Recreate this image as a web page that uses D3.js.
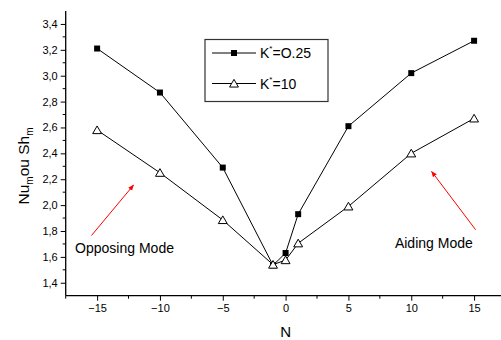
<!DOCTYPE html>
<html>
<head>
<meta charset="utf-8">
<script src="https://cdn.jsdelivr.net/npm/d3@7"></script>
<style>
  body { margin: 0; background: #fff; }
  text { font-family: "Liberation Sans", Arial, sans-serif; }
</style>
</head>
<body>
<svg id="chart"></svg>
<script>
// values
let nValues = [-15, -10, -5, -1, 0, 1, 5, 10, 15]
let k025 = [3.21, 2.87, 2.29, 1.535, 1.63, 1.93, 2.61, 3.02, 3.27]
let k10 = [2.58, 2.25, 1.885, 1.54, 1.575, 1.705, 1.99, 2.40, 2.67]
let xTicks = [-15, -10, -5, 0, 5, 10, 15]
let xMinor = [-17.5, -12.5, -7.5, -2.5, 2.5, 7.5, 12.5, 17.5]
let yTicks = [1.4, 1.6, 1.8, 2.0, 2.2, 2.4, 2.6, 2.8, 3.0, 3.2, 3.4]
let yMinor = [1.5, 1.7, 1.9, 2.1, 2.3, 2.5, 2.7, 2.9, 3.1, 3.3]
let seriesNames = ["O.25", "10"]
let notes = [
    {text: "Opposing Mode", x: -16.75, y: 1.63, from: [-15.45, 1.765], to: [-12.1, 2.155]},
    {text: "Aiding Mode", x: 8.7, y: 1.668, from: [15.12, 1.81], to: [11.62, 2.26]}
]

let svg = d3.select("#chart").attr("width", 501).attr("height", 340)

function translate(x, y){
    return "translate(" + x + ", " + y + ")"
}

let x = d3.scaleLinear().domain([-17.5, 17.5]).range([65.7, 505.5]),
    y = d3.scaleLinear().domain([1.3, 3.5]).range([295.7, 11])
let fmt = d => d.toFixed(1).replace(".", ",")

// axes
let xAxis = svg.append("g").attr("transform", translate(0, y(1.3)))
    .call(d3.axisBottom(x).tickValues(xTicks).tickSize(5).tickPadding(4).tickFormat(d3.format("d")))
xAxis.select(".domain").attr("d", "M" + x(-17.5) + ",0H" + x(17.5)).attr("stroke-width", 1.3)
xAxis.selectAll(".tick text").attr("font-size", 11).attr("font-family", "Liberation Sans, Arial, sans-serif")
xAxis.selectAll(".minor").data(xMinor).enter().append("line")
    .attr("class", "minor").attr("x1", d => x(d)).attr("x2", d => x(d))
    .attr("y1", 0).attr("y2", 3).attr("stroke", "#000")

let yAxis = svg.append("g").attr("transform", translate(x(-17.5), 0))
    .call(d3.axisLeft(y).tickValues(yTicks).tickSize(5).tickPadding(3).tickFormat(fmt))
yAxis.select(".domain").attr("d", "M0," + y(1.3) + "V" + y(3.5)).attr("stroke-width", 1.3)
yAxis.selectAll(".tick text").attr("font-size", 11).attr("font-family", "Liberation Sans, Arial, sans-serif")
yAxis.selectAll(".minor").data(yMinor).enter().append("line")
    .attr("class", "minor").attr("x1", -3).attr("x2", 0)
    .attr("y1", d => y(d)).attr("y2", d => y(d)).attr("stroke", "#000")

// axis titles
svg.append("text").attr("x", x(0)).attr("y", 337).attr("text-anchor", "middle")
    .attr("font-size", 15).text("N")
let yt = svg.append("text").attr("transform", translate(29, 166) + " rotate(-90)")
    .attr("text-anchor", "middle").attr("font-size", 15.5)
yt.append("tspan").text("Nu")
yt.append("tspan").attr("font-size", 10).attr("dy", 4).text("m")
yt.append("tspan").attr("dy", -4).text("ou Sh")
yt.append("tspan").attr("font-size", 10).attr("dy", 4).text("m")

// lines and markers
let line = d3.line().x((d, i) => x(nValues[i])).y(d => y(d))
svg.append("path").datum(k025).attr("d", line).attr("fill", "none").attr("stroke", "#000").attr("stroke-width", 1)
svg.append("path").datum(k10).attr("d", line).attr("fill", "none").attr("stroke", "#000").attr("stroke-width", 1)

let square = d3.symbol().type(d3.symbolSquare).size(36)
let triangle = d3.symbol().type(d3.symbolTriangle).size(34)

svg.selectAll(".sq").data(k025).enter().append("path").attr("class", "sq")
    .attr("d", square).attr("transform", (d, i) => translate(x(nValues[i]), y(d)))
    .attr("fill", "#000")
svg.selectAll(".tri").data(k10).enter().append("path").attr("class", "tri")
    .attr("d", triangle).attr("transform", (d, i) => translate(x(nValues[i]), y(d) + 1))
    .attr("fill", "#fff").attr("stroke", "#000").attr("stroke-width", 1)

// legend
let lg = svg.append("g").attr("transform", translate(205, 39.5))
lg.append("rect").attr("width", 123).attr("height", 62)
    .attr("fill", "#fff").attr("stroke", "#333").attr("stroke-width", 1.2)
seriesNames.forEach((name, i) => {
    let row = lg.append("g").attr("transform", translate(0, 13.5 + i * 30.5))
    row.append("line").attr("x1", 7).attr("x2", 51).attr("stroke", "#000")
    row.append("path").attr("d", i == 0 ? square : triangle)
        .attr("transform", translate(29, i == 0 ? 0 : 1))
        .attr("fill", i == 0 ? "#000" : "#fff").attr("stroke", i == 0 ? "none" : "#000")
    let t = row.append("text").attr("x", 55).attr("y", 5).attr("font-size", 14)
    t.append("tspan").text("K")
    t.append("tspan").attr("font-size", 8).attr("dy", -7).text("*")
    t.append("tspan").attr("dy", 7).text("=" + name)
})

// annotations
svg.append("defs").append("marker").attr("id", "head")
    .attr("viewBox", "0 0 10 10").attr("refX", 9).attr("refY", 5)
    .attr("markerWidth", 6).attr("markerHeight", 6).attr("orient", "auto")
    .append("path").attr("d", "M0,1L10,5L0,9Z").attr("fill", "#f00")

notes.forEach(n => {
    svg.append("line")
        .attr("x1", x(n.from[0])).attr("y1", y(n.from[1]))
        .attr("x2", x(n.to[0])).attr("y2", y(n.to[1]))
        .attr("stroke", "#f00").attr("stroke-width", 1).attr("marker-end", "url(#head)")
    svg.append("text").attr("x", x(n.x)).attr("y", y(n.y)).attr("font-size", 14).text(n.text)
})
</script>
</body>
</html>
